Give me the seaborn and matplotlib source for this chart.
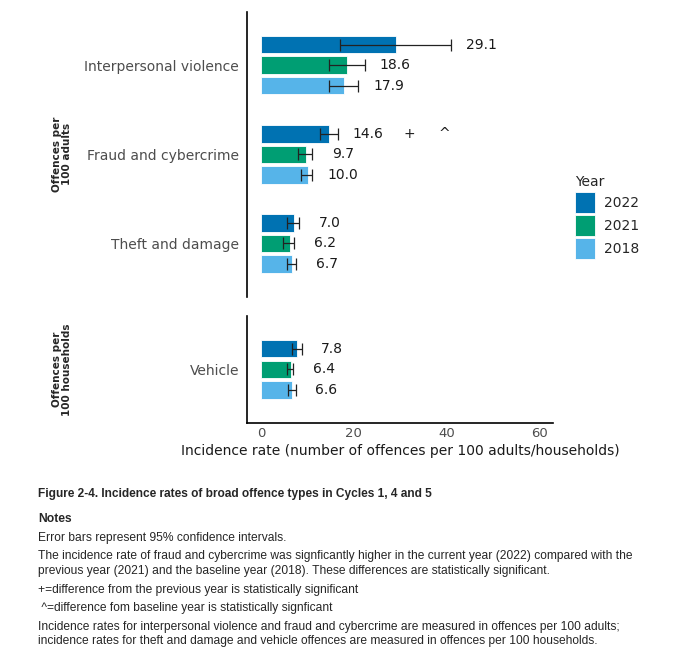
import pandas as pd
import matplotlib
matplotlib.use("Agg")
import matplotlib.pyplot as plt
from matplotlib import font_manager
import seaborn as sns

# Datos
categories_adults = ["Interpersonal violence", "Fraud and cybercrime", "Theft and damage"]
categories_households = ["Vehicle"]
years = ["2022", "2021", "2018"]

rate_2022 = [29.1, 14.6, 7.0, 7.8]
rate_2021 = [18.6, 9.7, 6.2, 6.4]
rate_2018 = [17.9, 10.0, 6.7, 6.6]

lower_2022 = [17.1, 12.65, 5.5, 6.6]
upper_2022 = [41.0, 16.5, 8.2, 8.75]
lower_2021 = [14.7, 8.0, 4.8, 5.5]
upper_2021 = [22.3, 11.0, 7.15, 6.9]
lower_2018 = [14.6, 8.6, 5.5, 5.7]
upper_2018 = [20.95, 11.05, 7.6, 7.45]

# marcas de significancia (categoria, anio, simbolos)
sig_category = "Fraud and cybercrime"
sig_year = "2022"
sig_marks = ["+", "^"]

palette = {"2022": "#0072B2", "2021": "#009E73", "2018": "#56B4E9"}

notes_title = "Figure 2-4. Incidence rates of broad offence types in Cycles 1, 4 and 5"
notes_lines = [
    "Error bars represent 95% confidence intervals.",
    "The incidence rate of fraud and cybercrime was signficantly higher in the current year (2022) compared with the\n"
    "previous year (2021) and the baseline year (2018). These differences are statistically significant.",
    "+=difference from the previous year is statistically significant",
    " ^=difference fom baseline year is statistically signficant",
    "Incidence rates for interpersonal violence and fraud and cybercrime are measured in offences per 100 adults;\n"
    "incidence rates for theft and damage and vehicle offences are measured in offences per 100 households.",
]


def build_df() -> pd.DataFrame:
    cats = categories_adults + categories_households
    rows = []
    series = {
        "2022": (rate_2022, lower_2022, upper_2022),
        "2021": (rate_2021, lower_2021, upper_2021),
        "2018": (rate_2018, lower_2018, upper_2018),
    }
    for year in years:
        rates, lows, ups = series[year]
        for i, cat in enumerate(cats):
            rows.append({"category": cat, "year": year, "rate": rates[i],
                         "lower": lows[i], "upper": ups[i]})
    return pd.DataFrame(rows)


def draw_panel(ax, df, order):
    sub = df[df["category"].isin(order)]
    sns.barplot(data=sub, y="category", x="rate", hue="year", order=order,
                hue_order=years, palette=palette, saturation=1, orient="h",
                width=0.69, gap=0.15, errorbar=None, edgecolor="white",
                linewidth=0.6, ax=ax)

    # barras de error y etiquetas a partir de la posicion de cada barra
    for year, container in zip(years, ax.containers):
        for cat, bar in zip(order, container.patches):
            row = sub[(sub["category"] == cat) & (sub["year"] == year)].iloc[0]
            yc = bar.get_y() + bar.get_height() / 2
            ax.errorbar(row["rate"], yc,
                        xerr=[[row["rate"] - row["lower"]], [row["upper"] - row["rate"]]],
                        fmt="none", ecolor="#222222", elinewidth=0.9, capsize=4.4,
                        capthick=0.9)
            lx = row["upper"] + 6.6
            ax.text(lx, yc, f"{row['rate']:.1f}", ha="center", va="center",
                    fontsize=10, color="#1a1a1a")
            if cat == sig_category and year == sig_year:
                for k, mark in enumerate(sig_marks):
                    ax.text(lx + 8.9 + 7.6 * k, yc, mark, ha="center", va="center",
                            fontsize=10, color="#1a1a1a")

    ax.set_xlim(-3, 63)
    ax.set_ylabel("")
    ax.set_xlabel("")
    ax.tick_params(axis="y", length=0, pad=6, labelsize=10, labelcolor="#4d4d4d")
    for s in ["top", "right"]:
        ax.spines[s].set_visible(False)
    ax.spines["left"].set_color("black")
    ax.spines["left"].set_linewidth(1.2)


def main():
    sns.set_style("white")
    plt.rcParams["font.family"] = ["DejaVu Sans"]

    df = build_df()

    fig = plt.figure(figsize=(6.82, 6.61), dpi=100)
    ax_top = fig.add_axes([0.3626, 0.5507, 0.4487, 0.4316])
    ax_bot = fig.add_axes([0.3626, 0.3600, 0.4487, 0.1626])

    draw_panel(ax_top, df, categories_adults)
    draw_panel(ax_bot, df, categories_households)

    ax_top.set_ylim(2.6, -0.6)
    ax_bot.set_ylim(0.6, -0.6)

    ax_top.spines["bottom"].set_visible(False)
    ax_top.set_xticks([])
    ax_bot.set_xticks([0, 20, 40, 60])
    ax_bot.tick_params(axis="x", length=0, pad=3, labelsize=9.5, labelcolor="#4d4d4d")
    ax_bot.spines["bottom"].set_color("black")
    ax_bot.spines["bottom"].set_linewidth(1.2)
    ax_bot.set_xlabel("Incidence rate (number of offences per 100 adults/households)",
                      fontsize=10, color="#1a1a1a", labelpad=3)

    handles, labels = ax_top.get_legend_handles_labels()
    ax_top.get_legend().remove()
    if ax_bot.get_legend() is not None:
        ax_bot.get_legend().remove()
    fig.legend(handles, labels, title="Year", loc="upper left",
               bbox_to_anchor=(0.833, 0.745), frameon=False, fontsize=10,
               title_fontsize=10, handlelength=1.45, handleheight=1.95,
               labelspacing=0.15, handletextpad=0.6, borderpad=0, alignment="left")

    # etiquetas de grupo
    fig.text(0.0915, 0.5507 + 0.4316 / 2, "Offences per\n100 adults", rotation=90,
             ha="center", va="center", fontsize=7.5, fontweight="bold",
             multialignment="center", linespacing=1.0)
    fig.text(0.0915, 0.36 + 0.1626 / 2, "Offences per\n100 households", rotation=90,
             ha="center", va="center", fontsize=7.5, fontweight="bold",
             multialignment="center", linespacing=1.0)

    # notas (fuente estrecha si existe)
    names = {f.name for f in font_manager.fontManager.ttflist}
    if "Liberation Sans Narrow" in names:
        note_font, title_size, head_size, note_size = "Liberation Sans Narrow", 10.8, 10, 10
    else:
        note_font, title_size, head_size, note_size = "Liberation Sans", 8.6, 8.7, 8.65

    x0 = 38 / 682
    fig.text(x0, 1 - 494 / 661, notes_title, ha="left", va="center", fontsize=title_size,
             fontweight="bold", family=note_font)
    fig.text(x0, 1 - 519 / 661, "Notes", ha="left", va="center", fontsize=head_size,
             fontweight="bold", family=note_font)
    ys = [538, 563.5, 590, 608, 634]
    for y, line in zip(ys, notes_lines):
        fig.text(x0, 1 - y / 661, line, ha="left", va="center", fontsize=note_size,
                 family=note_font, linespacing=1.25)

    fig.savefig("out.png", dpi=100)


if __name__ == "__main__":
    main()
